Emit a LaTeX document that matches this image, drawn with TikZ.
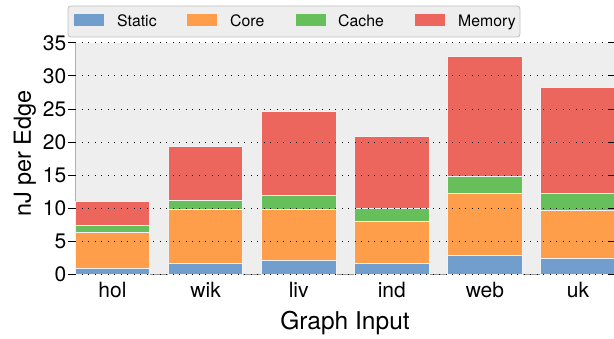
\documentclass[tikz,border=0pt]{standalone}
\usepackage{fontspec}
\setmainfont{TeX Gyre Heros}
\definecolor{cstatic}{RGB}{114,158,206}
\definecolor{ccore}{RGB}{255,158,74}
\definecolor{ccache}{RGB}{103,191,92}
\definecolor{cmem}{RGB}{237,102,93}
\definecolor{bgc}{RGB}{238,238,238}
\begin{document}
\begin{tikzpicture}[x=1pt,y=1pt,
  seg/.style={draw=white!95!black, line width=0.7pt},
  gridln/.style={line width=0.8pt, dash pattern=on 1.1pt off 5.4pt},
  ticklab/.style={font=\fontsize{21}{21}\selectfont, anchor=east, inner sep=0},
  xlab/.style={font=\fontsize{21}{21}\selectfont, anchor=base, inner sep=0},
  leglab/.style={font=\fontsize{15.8}{16}\selectfont, anchor=base west, inner sep=0},
  legpatch/.style={inner sep=0, minimum width=30pt, minimum height=11.3pt, anchor=south west}
]
\useasboundingbox (0,0) rectangle (614,339);
% plot area
\fill[bgc] (75.3,64.5) rectangle (616,296.2);
\draw[black!30, line width=0.8pt] (75.3,64.5) -- (75.3,296.2);
\draw[black!40, line width=0.8pt] (75.3,64.5) -- (616,64.5);
% bars
\begin{scope}[shift={(112.5,64.5)}, x=93.1pt, y=6.62pt]
\foreach \i/\a/\b/\c/\d in {0/1.0/6.3/7.4/11.0, 1/1.7/9.8/11.25/19.3, 2/2.1/9.8/11.9/24.7, 3/1.7/8.1/10.0/20.8, 4/2.85/12.2/14.9/32.9, 5/2.4/9.7/12.3/28.2}{
  \filldraw[seg, fill=cstatic] (\i-0.4,0) rectangle (\i+0.4,\a);
  \filldraw[seg, fill=ccore] (\i-0.4,\a) rectangle (\i+0.4,\b);
  \filldraw[seg, fill=ccache] (\i-0.4,\b) rectangle (\i+0.4,\c);
  \filldraw[seg, fill=cmem] (\i-0.4,\c) rectangle (\i+0.4,\d);
}
\end{scope}
% grid, ticks, tick labels
\foreach \v in {0,5,...,35}{
  \draw[gridln] (75.3,{64.5+6.62*\v}) -- (616,{64.5+6.62*\v});
  \draw[line width=0.9pt] (68,{64.5+6.62*\v}) -- (75.3,{64.5+6.62*\v});
  \draw[line width=0.9pt] (608,{64.5+6.62*\v}) -- (614,{64.5+6.62*\v});
  \node[ticklab] (y\v) at (66.5,{64.5+6.62*\v}) {\v};
}
% x tick labels
\foreach \i/\t in {0/hol,1/wik,2/liv,3/ind,4/web,5/uk}{
  \node[xlab] (x\t) at ({112.5+93.1*\i},41) {\t};
}
\node[font=\fontsize{24.5}{25}\selectfont, anchor=base, inner sep=0] (xtitle) at (345,9) {Graph Input};
\node[font=\fontsize{23.5}{24}\selectfont, anchor=base, rotate=90, inner sep=0] (ytitle) at (31,185.5) {nJ per Edge};
% legend
\draw[black!25, fill=bgc, rounded corners=3pt, line width=0.8pt] (68,302) rectangle (520,333);
\node[legpatch, fill=cstatic] (p1) at (74,313) {};
\node[leglab] (l1) at (117,312.3) {Static};
\node[legpatch, fill=ccore] (p2) at (187,313) {};
\node[leglab] (l2) at (230,312.3) {Core};
\node[legpatch, fill=ccache] (p3) at (296,313) {};
\node[leglab] (l3) at (338,312.3) {Cache};
\node[legpatch, fill=cmem] (p4) at (415,313) {};
\node[leglab] (l4) at (458,312.3) {Memory};
\end{tikzpicture}
\end{document}
